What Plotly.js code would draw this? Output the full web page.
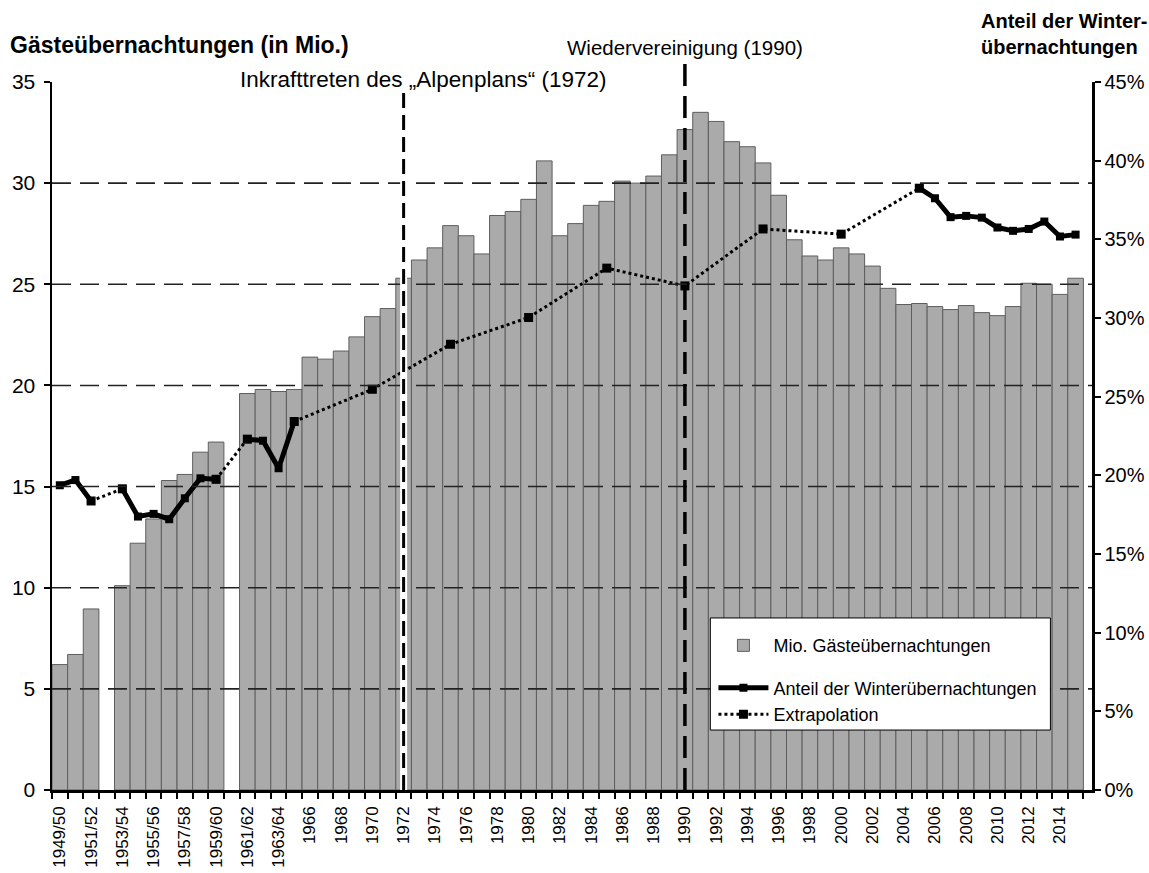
<!DOCTYPE html>
<html><head><meta charset="utf-8">
<script src="https://cdn.plot.ly/plotly-3.0.1.min.js"></script>
<style>html,body{margin:0;padding:0;background:#fff}#chart{width:1149px;height:873px}</style>
</head><body><div id="chart"></div>
<script>
const categories = ['1949/50','1950/51','1951/52','1952/53','1953/54','1954/55','1955/56','1956/57','1957/58','1958/59','1959/60','1960/61','1961/62','1962/63','1963/64',
  '1965','1966','1967','1968','1969','1970','1971','1972','1973','1974','1975','1976','1977','1978','1979','1980',
  '1981','1982','1983','1984','1985','1986','1987','1988','1989','1990','1991','1992','1993','1994','1995','1996','1997','1998','1999','2000',
  '2001','2002','2003','2004','2005','2006','2007','2008','2009','2010','2011','2012','2013','2014','2015'];

// Mio. Gästeübernachtungen
const overnights = [6.2,6.7,8.95,null,10.1,12.2,13.4,15.3,15.6,16.7,17.2,null,19.6,19.8,19.7,
  19.8,21.4,21.3,21.7,22.4,23.4,23.8,25.3,26.2,26.8,27.9,27.4,26.5,28.4,28.6,29.2,
  31.1,27.4,28.0,28.9,29.1,30.1,30.0,30.35,31.4,32.65,33.5,33.05,32.05,31.8,31.0,29.4,27.2,26.4,26.2,26.8,
  26.5,25.9,24.8,24.0,24.05,23.9,23.75,23.95,23.6,23.45,23.9,25.05,25.0,24.5,25.3];

// Anteil der Winterübernachtungen (%)
const winterShare = [19.37,19.7,18.37,null,19.14,17.38,17.55,17.21,18.54,19.81,19.75,null,22.3,22.2,20.45,
  23.42,null,null,null,null,null,null,null,null,null,null,null,null,null,null,null,
  null,null,null,null,null,null,null,null,null,null,null,null,null,null,null,null,null,null,null,null,
  null,null,null,null,38.25,37.61,36.41,36.49,36.38,35.75,35.54,35.66,36.13,35.18,35.30];

// Extrapolation (%)
const extrapolation = [null,null,null,null,null,null,null,null,null,null,null,null,null,null,null,
  null,null,null,null,null,25.47,null,null,null,null,28.33,null,null,null,null,30.03,
  null,null,null,null,33.17,null,null,null,null,32.04,null,null,null,null,35.66,null,null,null,null,35.33,
  null,null,null,null,null,null,null,null,null,null,null,null,null,null,null];

const yTicks = [0,5,10,15,20,25,30,35];
const y2Ticks = [0,5,10,15,20,25,30,35,40,45];
const y2TickText = y2Ticks.map(v => v + '%');
const eventAlpenplan = '1972';
const eventReunification = '1990';

const FONT = '"Liberation Sans", Arial, sans-serif';
const idx = categories.map((c,i)=>i);
const tickVals = idx.filter(i=>i%2===0);
const tickText = tickVals.map(i=>categories[i]);

// dotted segments
const known = idx.filter(i => winterShare[i]!==null || extrapolation[i]!==null);
const val = i => winterShare[i]!==null ? winterShare[i] : extrapolation[i];
const dx=[], dy=[];
let last = null;
for (let k=0;k<known.length-1;k++){
  const a=known[k], b=known[k+1];
  const dotted = b>a+1 || extrapolation[a]!==null || extrapolation[b]!==null;
  if (!dotted) continue;
  if (last !== a){
    if (dx.length){ dx.push(a); dy.push(null); }
    dx.push(a); dy.push(val(a));
  }
  dx.push(b); dy.push(val(b));
  last = b;
}

const traces = [
  {type:'bar', x: idx, y: overnights, name:'Mio. Gästeübernachtungen', legendgroup:'a',
   marker:{color:'#aaaaaa', line:{color:'#5e5e5e', width:1}}, hoverinfo:'skip'},
  {type:'scatter', mode:'lines+markers', x: dx, y: dy, yaxis:'y2', name:'Extrapolation', legendgroup:'b',
   line:{color:'#000', width:3, dash:'dot'}, marker:{symbol:'square', size:9, color:'#000'}, connectgaps:false, showlegend:false},
  {type:'scatter', mode:'lines+markers', x: idx, y: winterShare, yaxis:'y2', name:'Anteil der Winterübernachtungen', legendgroup:'b',
   line:{color:'#000', width:5}, marker:{symbol:'square', size:8, color:'#000'}, connectgaps:false},
  {type:'scatter', mode:'lines+markers', x: [null], y: [null], yaxis:'y2', name:'Extrapolation', legendgroup:'b',
   line:{color:'#000', width:3, dash:'dot'}, marker:{symbol:'square', size:9, color:'#000'}}
];

const shapes = [];
yTicks.filter(v=>v>0 && v<35).forEach(v=>{
  shapes.push({type:'line', xref:'paper', x0:0, x1:1, yref:'y', y0:v, y1:v, layer:'above',
    line:{color:'#222', width:1.6, dash:'19px,9px'}});
});
const i72 = categories.indexOf(eventAlpenplan), i90 = categories.indexOf(eventReunification);
shapes.push({type:'line', xref:'x', x0:i72, x1:i72, yref:'paper', y0:0, y1:0.986, layer:'above', line:{color:'#fff', width:7}});
shapes.push({type:'line', xref:'x', x0:i72, x1:i72, yref:'paper', y0:0, y1:0.986, layer:'above', line:{color:'#000', width:3, dash:'15px,7px'}});
shapes.push({type:'line', xref:'x', x0:i90, x1:i90, yref:'paper', y0:0, y1:1.034, layer:'above', line:{color:'#000', width:3.5, dash:'22px,10px'}});
// legend box
shapes.push({type:'rect', xref:'paper', yref:'paper', x0:0.633, x1:0.960, y0:0.0847, y1:0.243, layer:'above',
  fillcolor:'#fff', line:{color:'#000', width:1}});

const layout = {
  width:1149, height:873,
  margin:{l:52, r:57, t:82, b:83},
  paper_bgcolor:'#fff', plot_bgcolor:'#fff',
  font:{family:FONT, color:'#000', size:19},
  bargap:0,
  showlegend:true,
  legend:{x:0.636, y:0.230, xanchor:'left', yanchor:'top', bgcolor:'rgba(0,0,0,0)', borderwidth:0,
    font:{family:FONT, size:18, color:'#000'}, itemwidth:50, traceorder:'grouped', tracegroupgap:16},
  xaxis:{type:'linear', range:[-0.5, 66.05], tickvals:tickVals, ticktext:tickText, tickangle:-90,
    ticks:'outside', ticklen:7, tickcolor:'rgba(0,0,0,0)', tickfont:{size:17, family:FONT},
    minor:{tick0:-0.5, dtick:1, ticks:'outside', ticklen:6, tickwidth:2, tickcolor:'#000', showgrid:false},
    showline:true, linecolor:'#000', linewidth:2.5, showgrid:false, zeroline:false, fixedrange:true},
  yaxis:{range:[0,35], tickvals:yTicks, ticks:'outside', ticklen:6, tickwidth:2, tickcolor:'#000', ticklabelstandoff:4,
    showline:true, linecolor:'#000', linewidth:2.5, showgrid:false, zeroline:false, tickfont:{size:21}},
  yaxis2:{range:[0,45], tickvals:y2Ticks, ticktext:y2TickText, overlaying:'y', side:'right', ticks:'outside', ticklen:6, tickwidth:2,
    tickcolor:'#000', showline:true, linecolor:'#000', linewidth:2.5, showgrid:false, zeroline:false, tickfont:{size:20}},
  shapes:shapes,
  annotations:[
    {xref:'paper', yref:'paper', x:-0.0425, y:1.052, xanchor:'left', yanchor:'middle', showarrow:false,
     text:'<b>Gästeübernachtungen (in Mio.)</b>', font:{size:23, family:FONT}},
    {xref:'paper', yref:'paper', x:0.891, y:1.068, xanchor:'left', yanchor:'middle', showarrow:false, align:'left',
     text:'<b>Anteil der Winter-<br>übernachtungen</b>', font:{size:20, family:FONT}},
    {xref:'x', yref:'paper', x:i90, y:1.049, xanchor:'center', yanchor:'middle', showarrow:false,
     text:'Wiedervereinigung (1990)', font:{size:20.5, family:FONT}},
    {xref:'x', yref:'paper', x:i72, xshift:19, y:1.003, xanchor:'center', yanchor:'middle', showarrow:false,
     text:'Inkrafttreten des „Alpenplans“ (1972)', font:{size:22.5, family:FONT}}
  ]
};

Plotly.newPlot('chart', traces, layout, {staticPlot:true, displayModeBar:false});
</script>
</body></html>
